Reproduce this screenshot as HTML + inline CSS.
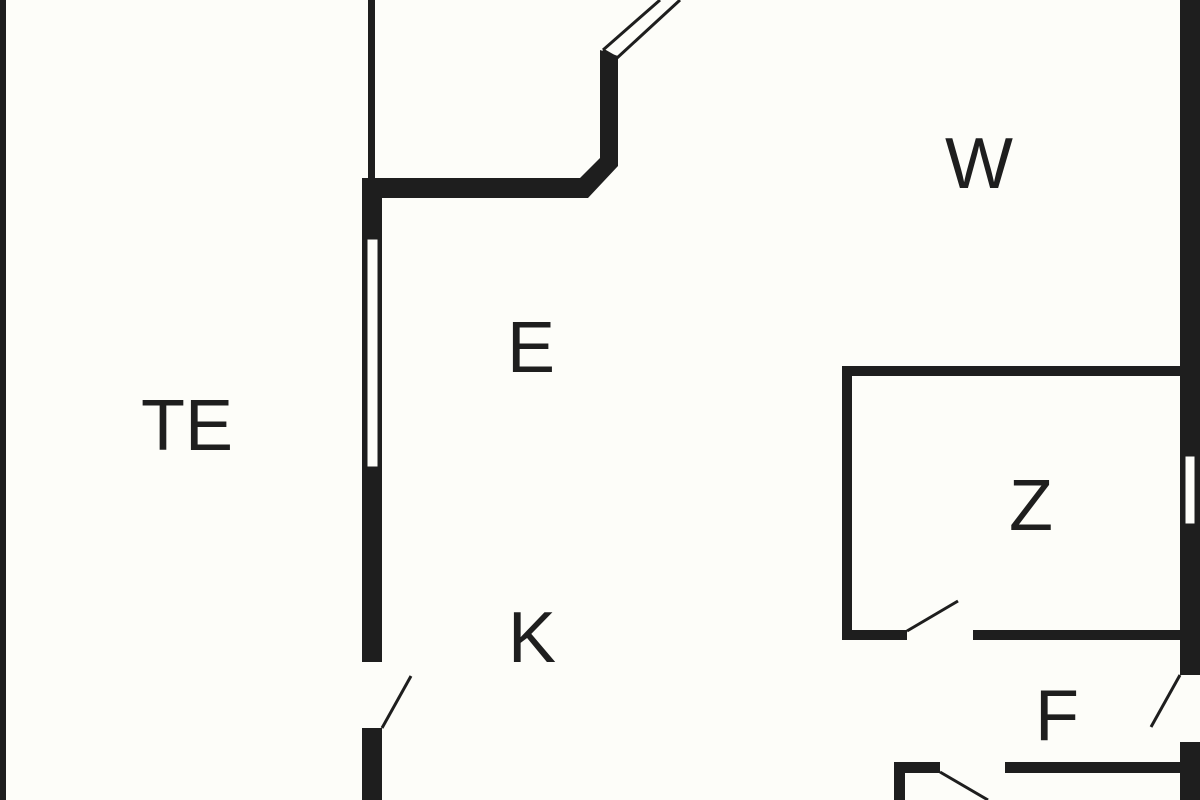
<!DOCTYPE html>
<html><head><style>
html,body{margin:0;padding:0;background:#fdfdf9;}
svg{display:block}
text{font-family:"Liberation Sans",sans-serif;font-size:72px;fill:#1e1e1e;text-anchor:middle}
</style></head><body>
<svg width="1200" height="800" viewBox="0 0 1200 800" xmlns="http://www.w3.org/2000/svg">
<rect width="1200" height="800" fill="#fdfdf9"/>
<g fill="#1e1e1e">
<rect x="0" y="0" width="6" height="800"/>
<rect x="368" y="0" width="7" height="180"/>
<rect x="362" y="178" width="20" height="622"/>
<rect x="362" y="178" width="225" height="20"/>
<polygon points="580,178 600,158 600,50 618,56 618,166 588,198 580,198"/>
<rect x="1180" y="0" width="20" height="800"/>
<rect x="842" y="366" width="10" height="274"/>
<rect x="842" y="366" width="340" height="10"/>
<rect x="842" y="630" width="65" height="10"/>
<rect x="973" y="630" width="209" height="10"/>
<rect x="894" y="762" width="46" height="11"/>
<rect x="1005" y="762" width="177" height="11"/>
<rect x="894" y="762" width="11" height="38"/>
</g>
<g fill="#fdfdf9">
<rect x="366" y="238" width="13" height="230"/>
<rect x="361" y="662" width="22" height="66"/>
<rect x="1184" y="455" width="12" height="70"/>
<rect x="1180" y="675" width="20" height="67"/>
</g>
<g stroke="#1e1e1e" fill="none">
<rect x="366.5" y="238.5" width="12" height="229" stroke-width="2"/>
<rect x="1184.5" y="455.5" width="11" height="69" stroke-width="2"/>
<line x1="382" y1="728" x2="411" y2="676" stroke-width="3"/>
<line x1="907" y1="631" x2="958" y2="601" stroke-width="3"/>
<line x1="1180" y1="675" x2="1151" y2="727" stroke-width="3"/>
<line x1="940" y1="772" x2="988" y2="800" stroke-width="3"/>
<line x1="603" y1="50" x2="660" y2="0" stroke-width="3"/>
<line x1="617" y1="58" x2="680" y2="0" stroke-width="3"/>
<line x1="603" y1="50" x2="617" y2="58" stroke-width="3"/>
</g>
<text x="187" y="450">TE</text>
<text x="531" y="372">E</text>
<text x="979" y="188">W</text>
<text x="1031" y="530">Z</text>
<text x="532" y="662">K</text>
<text x="1057" y="740">F</text>
</svg>
</body></html>
